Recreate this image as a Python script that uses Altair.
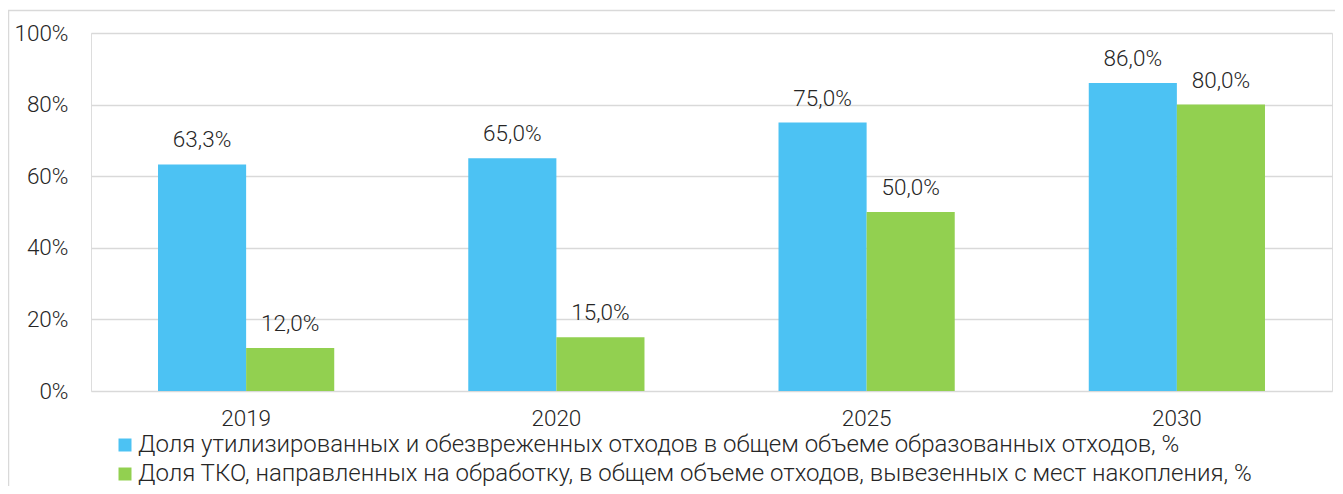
import altair as alt
import pandas as pd

years = ["2019", "2020", "2025", "2030"]
series = [
    "Доля утилизированных и обезвреженных отходов в общем объеме образованных отходов, %",
    "Доля ТКО, направленных на обработку, в общем объеме отходов, вывезенных с мест накопления, %",
]
values_a = [63.3, 65.0, 75.0, 86.0]
values_b = [12.0, 15.0, 50.0, 80.0]
colors = ["#4CC2F3", "#92D050"]

rows = []
for y, a, b in zip(years, values_a, values_b):
    rows.append({"year": y, "series": series[0], "value": a / 100, "label": f"{a:.1f}%".replace(".", ",")})
    rows.append({"year": y, "series": series[1], "value": b / 100, "label": f"{b:.1f}%".replace(".", ",")})
df = pd.DataFrame(rows)

FONT = "Roboto"
FS = 22.5
LFS = 24
TXT = "#262626"
W, H = 1241, 358

x = alt.X("year:N", sort=years, title=None,
          scale=alt.Scale(paddingInner=0.432, paddingOuter=0.216),
          axis=alt.Axis(labelAngle=0, ticks=False, domain=False, labelPadding=16,
                        labelFontSize=FS, labelFont=FONT, labelFontWeight=300, labelColor=TXT))
xo = alt.XOffset("series:N", sort=series)
y = alt.Y("value:Q", title=None,
          scale=alt.Scale(domain=[0, 1], nice=False),
          axis=alt.Axis(values=[0, 0.2, 0.4, 0.6, 0.8, 1.0], format=".0%", ticks=False, domain=False,
                        labelPadding=23, labelFontSize=FS, labelFont=FONT, labelFontWeight=300,
                        labelColor=TXT, gridColor="#d9d9d9", gridWidth=1.5))

bars = alt.Chart(df).mark_bar().encode(
    x=x, xOffset=xo, y=y,
    color=alt.Color("series:N", sort=series,
                    scale=alt.Scale(domain=series, range=colors),
                    legend=alt.Legend(title=None, orient="none", legendX=22, legendY=400,
                                      direction="vertical", symbolType="square", symbolSize=169,
                                      symbolStrokeWidth=0, labelFontSize=LFS, labelFont=FONT,
                                      labelFontWeight=300, labelColor=TXT, labelLimit=1300,
                                      rowPadding=5, symbolOffset=0, labelOffset=1)),
)

labels = alt.Chart(df).mark_text(baseline="alphabetic", dy=-17, fontSize=FS, font=FONT,
                                 fontWeight=300, color=TXT).encode(
    x=alt.X("year:N", sort=years), xOffset=xo, y="value:Q", text="label:N")

frame_df = pd.DataFrame({"k": [0]})
top_border = alt.Chart(frame_df).mark_rule(color="#d9d9d9", strokeWidth=1.5).encode(
    x=alt.value(-83), x2=alt.value(W + 10), y=alt.value(-22.5))
left_border = alt.Chart(frame_df).mark_rule(color="#d9d9d9", strokeWidth=1.5).encode(
    x=alt.value(-82.5), y=alt.value(-22.5), y2=alt.value(H + 110))

chart = alt.layer(bars, labels, top_border, left_border).properties(
    width=W, height=H,
    autosize=alt.AutoSizeParams(type="none"),
    padding={"left": 83, "top": 25, "right": 3, "bottom": 95},
).configure_view(stroke=None).configure(background="white")

chart.save("out.html", embed_options={"renderer": "svg", "actions": False})
